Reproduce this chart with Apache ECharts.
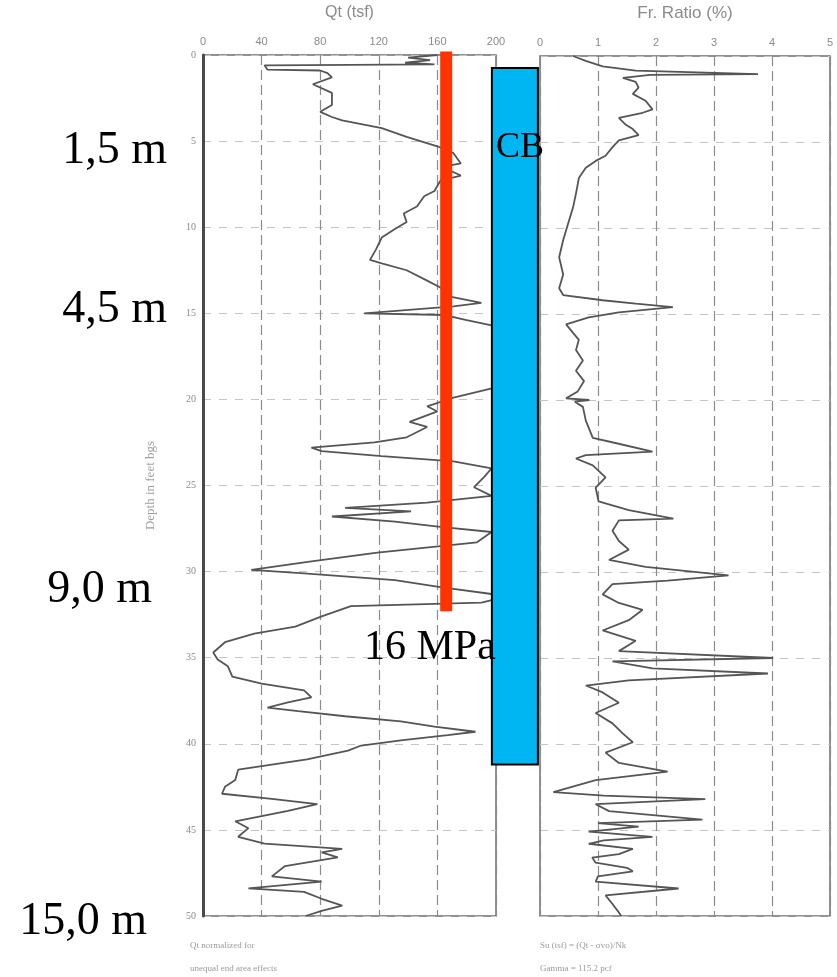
<!DOCTYPE html>
<html>
<head>
<meta charset="utf-8">
<script src="https://cdn.jsdelivr.net/npm/echarts@6/dist/echarts.min.js"></script>
<style>
html,body{margin:0;padding:0;background:#fff;}
#chart{width:837px;height:977px;}
</style>
</head>
<body>
<div id="chart"></div>
<script>
// ---- data ----
const qtTicks = [0, 40, 80, 120, 160, 200];
const frTicks = [0, 1, 2, 3, 4, 5];
const depthTicks = [0, 5, 10, 15, 20, 25, 30, 35, 40, 45, 50];

const qtDepth = [0.0,0.15,0.3,0.45,0.55,0.6,0.85,0.9,1.05,1.3,1.7,2.2,2.9,3.3,3.6,3.8,4.25,4.75,5.3,5.7,6.3,6.5,7.0,7.3,7.9,8.2,8.8,9.2,9.7,10.1,10.6,11.3,11.9,12.1,12.5,13.1,13.5,14.0,14.4,14.6,15.0,15.1,15.4,15.7,16.5,18.0,19.3,19.9,20.4,20.7,21.3,21.6,22.2,22.5,22.8,23.0,23.3,23.6,24.0,24.5,25.1,25.6,26.0,26.3,26.5,26.8,27.1,27.4,27.7,28.3,28.9,29.4,29.9,30.1,30.5,30.9,31.3,31.6,31.8,32.0,32.6,33.2,33.6,34.1,34.7,35.1,35.5,36.1,36.5,36.9,37.3,37.6,37.9,38.1,38.4,38.7,39.0,39.3,39.5,39.8,40.1,40.4,40.9,41.5,42.1,42.5,42.9,43.2,43.5,43.9,44.5,44.9,45.4,45.8,46.1,46.3,46.6,47.1,47.7,48.0,48.4,48.6,49.0,49.4,49.7,50.0];
const qtValue = [160,140,155,138,158,42,44,80,85,88,75,88,88,80,88,95,122,139,160,171,176,163,176,162,158,151,146,137,139,131,122,118,114,122,139,153,162,167,190,171,110,165,180,197,205,210,200,171,153,160,141,153,139,117,74,81,122,171,197,192,185,197,153,97,142,88,131,162,197,187,119,74,33,69,131,162,197,200,190,101,81,63,35,15,7,10,17,20,40,69,74,58,44,65,97,135,158,186,167,135,108,99,71,24,22,15,13,47,78,58,22,31,24,42,95,81,92,56,47,81,31,69,81,95,81,70];

const frDepth = [0.0,0.3,0.6,0.85,1.05,1.1,1.27,1.5,1.84,2.2,2.6,3.1,3.3,3.6,4.0,4.25,4.6,4.9,5.3,5.8,6.1,6.5,7.1,8.0,8.8,9.8,10.7,11.7,12.7,13.5,13.9,14.2,14.4,14.6,14.9,15.2,15.6,16.1,16.5,17.1,17.7,18.3,18.9,19.5,19.9,20.0,20.1,20.4,21.2,22.2,22.5,23.0,23.2,23.4,23.8,24.5,25.1,25.9,26.4,26.9,27.0,27.6,28.2,28.7,29.3,29.7,30.2,30.5,30.7,31.3,31.8,32.2,32.8,33.4,34.0,34.6,35.0,35.2,35.6,35.9,36.3,36.6,37.0,37.6,38.2,38.8,39.4,39.9,40.5,41.1,41.6,42.1,42.8,43.0,43.2,43.5,43.9,44.4,44.6,44.8,45.1,45.4,45.6,45.8,46.1,46.4,46.6,46.9,47.2,47.4,47.7,48.0,48.4,48.8,49.3,49.8,50.0];
const frValue = [0.57,0.8,1.08,1.65,3.76,1.9,1.43,1.65,1.7,1.6,1.82,1.94,1.77,1.36,1.48,1.6,1.7,1.36,1.25,1.13,0.96,0.79,0.67,0.62,0.57,0.48,0.4,0.33,0.4,0.33,0.4,1.08,1.65,2.29,1.36,0.84,0.45,0.57,0.67,0.62,0.74,0.62,0.76,0.65,0.45,0.85,0.6,0.74,0.79,0.91,1.3,1.94,0.79,0.62,0.91,1.13,0.96,1.01,1.53,2.3,1.36,1.25,1.36,1.53,1.19,1.82,3.25,2.2,1.25,1.08,1.36,1.77,1.53,1.08,1.65,1.36,4.02,1.25,1.94,3.93,1.53,0.79,1.08,1.36,0.96,1.25,1.43,1.6,1.13,1.36,2.2,0.96,0.23,1.1,2.85,0.96,1.19,2.8,1.0,1.7,0.84,1.94,1.1,0.84,1.6,1.36,0.9,0.96,1.5,1.6,1.0,0.96,2.39,1.13,1.25,1.36,1.4];

// overlay marks (in chart values: Qt tsf / depth ft)
const redBarQt = [166, 166];
const redBarDepth = [-0.2, 32.3];
const cbColumnQt = [197.2, 228.6];
const cbColumnDepth = [0.75, 41.2];

// annotation texts
const depthNotes = ['1,5 m', '4,5 m', '9,0 m', '15,0 m'];
const cbLabel = 'CB';
const mpaLabel = '16 MPa';
const footLeft = ['Qt normalized for', 'unequal end area effects'];
const footRight = ['Su (tsf) = (Qt - \u03C3vo)/Nk', 'Gamma = 115.2 pcf'];

// ---- chart ----
const chart = echarts.init(document.getElementById('chart'), null, {renderer: 'canvas'});
const gray = '#8a8a8a';
const serif = '"Liberation Serif", "DejaVu Serif", serif';

function zip(xs, ys) { return xs.map((x, i) => [x, ys[i]]); }

const vSplit = {show: true, lineStyle: {color: '#8c8c8c', width: 1.2, type: [10, 5]}};
const hSplit = {show: true, lineStyle: {color: '#c4c4c4', width: 1, type: [8, 8]}};

const notePos = [[167, 151], [167, 310], [152, 590], [147, 922]];

const option = {
  animation: false,
  backgroundColor: '#ffffff',
  grid: [
    {left: 203, top: 55, width: 293, height: 861, show: true, borderColor: '#6e6e6e', borderWidth: 1.5, backgroundColor: 'transparent'},
    {left: 540, top: 55, width: 290, height: 861, show: true, borderColor: '#6e6e6e', borderWidth: 1.5, backgroundColor: 'transparent'}
  ],
  xAxis: [
    {type: 'value', gridIndex: 0, position: 'top', min: qtTicks[0], max: qtTicks[qtTicks.length - 1], interval: qtTicks[1] - qtTicks[0],
     name: 'Qt (tsf)', nameLocation: 'middle', nameGap: 34,
     nameTextStyle: {color: '#8a8a8a', fontSize: 16, fontFamily: 'Liberation Sans'},
     axisLine: {show: false}, axisTick: {show: false},
     axisLabel: {color: gray, fontSize: 11, margin: 8, fontFamily: 'Liberation Sans'},
     splitLine: vSplit},
    {type: 'value', gridIndex: 1, position: 'top', min: frTicks[0], max: frTicks[frTicks.length - 1], interval: frTicks[1] - frTicks[0],
     name: 'Fr. Ratio (%)', nameLocation: 'middle', nameGap: 34,
     nameTextStyle: {color: '#8a8a8a', fontSize: 17, fontFamily: 'Liberation Sans'},
     axisLine: {show: false}, axisTick: {show: false},
     axisLabel: {color: gray, fontSize: 11, margin: 8, fontFamily: 'Liberation Sans'},
     splitLine: vSplit}
  ],
  yAxis: [
    {type: 'value', gridIndex: 0, inverse: true, min: depthTicks[0], max: depthTicks[depthTicks.length - 1], interval: depthTicks[1] - depthTicks[0],
     name: 'Depth in feet bgs', nameLocation: 'middle', nameGap: 46, nameRotate: 90,
     nameTextStyle: {color: '#a0a0a0', fontSize: 13, fontFamily: 'Liberation Serif'},
     axisLine: {show: true, lineStyle: {color: '#4a4a4a', width: 3}}, axisTick: {show: false},
     axisLabel: {color: gray, fontSize: 10, margin: 7, fontFamily: 'Liberation Serif'},
     splitLine: hSplit},
    {type: 'value', gridIndex: 1, inverse: true, min: depthTicks[0], max: depthTicks[depthTicks.length - 1], interval: depthTicks[1] - depthTicks[0],
     axisLine: {show: false}, axisTick: {show: false}, axisLabel: {show: false},
     splitLine: hSplit}
  ],
  series: [
    {type: 'line', name: 'Qt', xAxisIndex: 0, yAxisIndex: 0, data: zip(qtValue, qtDepth),
     showSymbol: false, symbol: 'none', z: 2,
     lineStyle: {color: '#555555', width: 1.8}},
    {type: 'line', name: 'Fr', xAxisIndex: 1, yAxisIndex: 1, data: zip(frValue, frDepth),
     showSymbol: false, symbol: 'none', z: 2,
     lineStyle: {color: '#555555', width: 1.8}},
    {type: 'line', name: 'red', xAxisIndex: 0, yAxisIndex: 0, data: zip(redBarQt, redBarDepth),
     showSymbol: false, symbol: 'none', clip: false, z: 5,
     lineStyle: {color: '#ff3300', width: 12, cap: 'butt'}},
    {type: 'custom', name: 'cb', xAxisIndex: 0, yAxisIndex: 0, clip: false, z: 6,
     data: [[cbColumnQt[0], cbColumnDepth[0], cbColumnQt[1], cbColumnDepth[1]]],
     renderItem: function (params, api) {
       const p1 = api.coord([api.value(0), api.value(1)]);
       const p2 = api.coord([api.value(2), api.value(3)]);
       return {type: 'rect', shape: {x: p1[0], y: p1[1], width: p2[0] - p1[0], height: p2[1] - p1[1]},
               style: {fill: '#00b6f2', stroke: '#000000', lineWidth: 2}};
     }}
  ],
  graphic: [].concat(
    depthNotes.map((t, i) => ({type: 'text', z: 20, x: notePos[i][0], y: notePos[i][1],
      style: {text: t, font: '46px ' + serif, fill: '#000', align: 'right', verticalAlign: 'middle'}})),
    [
      {type: 'text', z: 20, x: 496, y: 148, style: {text: cbLabel, font: '36px ' + serif, fill: '#000', align: 'left', verticalAlign: 'middle'}},
      {type: 'text', z: 20, x: 364, y: 648, style: {text: mpaLabel, font: '42px ' + serif, fill: '#000', align: 'left', verticalAlign: 'middle'}},
      {type: 'text', z: 20, x: 190, y: 946, style: {text: footLeft[0], font: '9px "Liberation Serif"', fill: '#9a9a9a', verticalAlign: 'middle'}},
      {type: 'text', z: 20, x: 190, y: 969, style: {text: footLeft[1], font: '9px "Liberation Serif"', fill: '#9a9a9a', verticalAlign: 'middle'}},
      {type: 'text', z: 20, x: 540, y: 946, style: {text: footRight[0], font: '9px "Liberation Serif"', fill: '#9a9a9a', verticalAlign: 'middle'}},
      {type: 'text', z: 20, x: 540, y: 969, style: {text: footRight[1], font: '9px "Liberation Serif"', fill: '#9a9a9a', verticalAlign: 'middle'}}
    ]
  )
};
chart.setOption(option);
</script>
</body>
</html>
